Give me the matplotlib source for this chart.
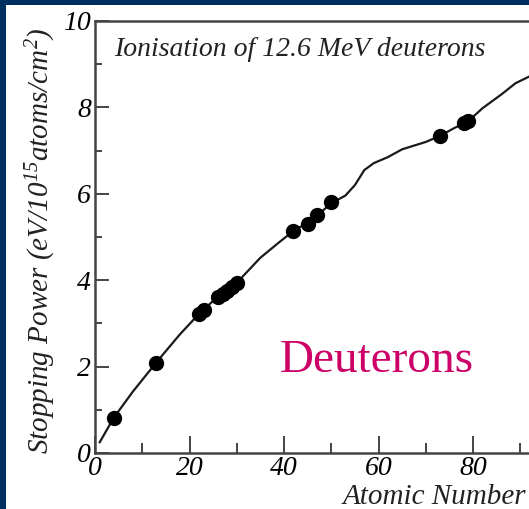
import matplotlib
matplotlib.use("Agg")
import matplotlib.pyplot as plt
from matplotlib.ticker import MultipleLocator
from matplotlib.patches import Rectangle

plt.rcParams["font.family"] = ["Liberation Serif", "DejaVu Serif"]
plt.rcParams["mathtext.default"] = "regular"

# measured stopping powers (Z, eV/10^15 atoms/cm^2)
meas_z = [4, 13, 22, 23, 26, 27, 28, 29, 30, 42, 45, 47, 50, 73, 78, 79]
meas_s = [0.81, 2.09, 3.22, 3.32, 3.60, 3.68, 3.76, 3.85, 3.93,
          5.14, 5.30, 5.51, 5.81, 7.34, 7.65, 7.69]

# calculated curve
curve_z = [1, 4, 8, 13, 18, 22, 26, 30, 35, 39, 42, 46, 50, 53, 55, 57,
           59, 62, 65, 70, 73, 76, 79, 82, 86, 89, 92, 95]
curve_s = [0.25, 0.82, 1.42, 2.10, 2.75, 3.22, 3.62, 3.94, 4.52, 4.88,
           5.14, 5.40, 5.78, 5.96, 6.20, 6.55, 6.71, 6.85, 7.03, 7.20,
           7.34, 7.52, 7.68, 7.98, 8.30, 8.56, 8.72, 8.90]

navy = "#00305f"
serif_it = dict(family="Liberation Serif", style="italic")

fig = plt.figure(figsize=(5.29, 5.09), dpi=100)
fig.patch.set_facecolor("white")
# dark frame strips along top and left
fig.patches.append(Rectangle((0, 1 - 5 / 509), 1, 5 / 509, transform=fig.transFigure,
                             facecolor=navy, edgecolor="none", zorder=10))
fig.patches.append(Rectangle((0, 0), 6 / 529, 1, transform=fig.transFigure,
                             facecolor=navy, edgecolor="none", zorder=10))

# axes runs out past the right edge of the figure
ax = fig.add_axes([95 / 529, 56 / 509, 434 / 529, 432 / 509])
ax.set_xlim(0, 91.85)
ax.set_ylim(0, 10)

ax.plot(curve_z, curve_s, color="#1a1a1a", lw=1.6, zorder=2)
ax.plot(meas_z, meas_s, "o", color="black", ms=10, zorder=3)

for side in ["left", "bottom", "top"]:
    ax.spines[side].set_linewidth(1.8)
    ax.spines[side].set_color("#444444")
ax.spines["right"].set_visible(False)

ax.xaxis.set_major_locator(MultipleLocator(20))
ax.xaxis.set_minor_locator(MultipleLocator(10))
ax.yaxis.set_major_locator(MultipleLocator(2))
ax.yaxis.set_minor_locator(MultipleLocator(1))
ax.tick_params(which="both", direction="in", color="#444444", width=1.4)
ax.tick_params(axis="x", which="major", length=12, pad=2)
ax.tick_params(axis="x", which="minor", length=7)
ax.tick_params(axis="y", which="major", length=10, pad=3)
ax.tick_params(axis="y", which="minor", length=5)
for lab in ax.get_xticklabels() + ax.get_yticklabels():
    lab.set_fontstyle("italic")
    lab.set_fontsize(20)

ax.text(0.044, 0.935, "Ionisation of 12.6 MeV deuterons", transform=ax.transAxes,
        fontsize=20, color="#222222", va="center", ha="left", **serif_it)
ax.text(0.426, 0.1875, "Deuterons", transform=ax.transAxes,
        fontsize=34, color="#cc0066", family="Liberation Serif", ha="left", va="baseline")

fig.text(41 / 529, 1 - 241 / 509, "Stopping Power (eV/10$^{15}$atoms/cm$^{2}$)",
         rotation=90, ha="center", va="center", fontsize=21, color="#222222", **serif_it)
fig.text(343 / 529, 1 - 497 / 509, "Atomic Number", ha="left", va="center",
         fontsize=21, color="#222222", **serif_it)

fig.savefig("out.png", dpi=100)
